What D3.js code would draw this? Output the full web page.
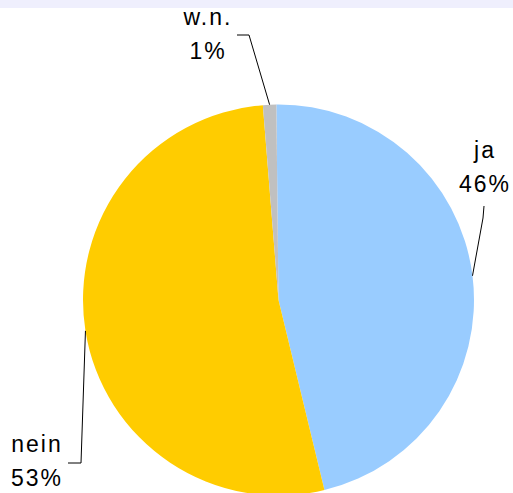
<!DOCTYPE html>
<html><head><meta charset="utf-8">
<script src="https://cdn.jsdelivr.net/npm/d3@7"></script>
<style>html,body{margin:0;padding:0;background:#fff;overflow:hidden}</style>
</head><body>
<svg id="c" width="513" height="493"></svg>
<script>
const categories = ["ja", "nein", "w.n."];
const values = [46.4, 52.5, 1.1];
const labels = ["46%", "53%", "1%"];
const colors = ["#99CCFF", "#FFCC00", "#C0C0C0"];

const svg = d3.select("#c");
svg.append("rect").attr("x",0).attr("y",0).attr("width",513).attr("height",8).attr("fill","#EFEFFD");

const cx = 278.5, cy = 300, r = 195.5;
const a0 = -0.011;
const g = svg.append("g").attr("transform", `translate(${cx},${cy})`);
const pie = d3.pie().sort(null).startAngle(a0).endAngle(a0 + 2*Math.PI);
const arcs = pie(values);
const arc = d3.arc().innerRadius(0).outerRadius(r);
g.selectAll("path.s").data(arcs).enter().append("path")
  .attr("d", arc).attr("fill", (d,i)=>colors[i]);

// label layout (text anchor + leader elbow)
const layout = [
  {tx: 485, ty: 158, elbow: [[484,206],[483,218]]},
  {tx: 37, ty: 452, elbow: [[68,463],[81,463]]},
  {tx: 208, ty: 25, elbow: [[237,35],[249,35]]}
];
arcs.forEach((d,i) => {
  const a = (d.startAngle + d.endAngle)/2;
  const px = cx + r*Math.sin(a), py = cy - r*Math.cos(a);
  const L = layout[i];
  const pts = [L.elbow[0], L.elbow[1], [px,py]];
  svg.append("path").attr("d", d3.line()(pts)).attr("fill","none")
    .attr("stroke","#000").attr("stroke-width",1);
  const t = svg.append("text").attr("text-anchor","middle")
    .attr("font-family","'Liberation Sans', Arial, sans-serif")
    .attr("font-size",23).attr("letter-spacing","2px").attr("fill","#000");
  t.append("tspan").attr("x",L.tx).attr("y",L.ty).text(categories[i]);
  t.append("tspan").attr("x",L.tx).attr("y",L.ty+34).text(labels[i]);
});
</script>
</body></html>
